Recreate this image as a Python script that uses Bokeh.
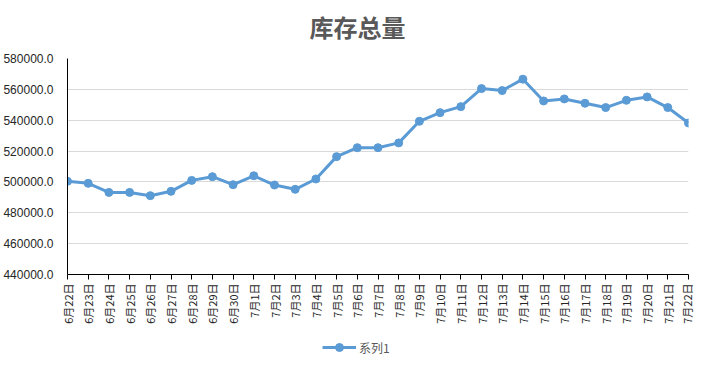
import math
from bokeh.plotting import figure
from bokeh.layouts import column
from bokeh.models import (ColumnDataSource, FixedTicker, NumeralTickFormatter,
                          Legend, LegendItem, Range1d, Label)
from bokeh.embed import file_html
from bokeh.resources import INLINE

dates = ["6月22日", "6月23日", "6月24日", "6月25日", "6月26日", "6月27日", "6月28日",
         "6月29日", "6月30日", "7月1日", "7月2日", "7月3日", "7月4日", "7月5日",
         "7月6日", "7月7日", "7月8日", "7月9日", "7月10日", "7月11日", "7月12日",
         "7月13日", "7月14日", "7月15日", "7月16日", "7月17日", "7月18日", "7月19日",
         "7月20日", "7月21日", "7月22日"]
series1 = [500400, 499100, 493200, 493200, 491100, 493900, 501000, 503400, 498200,
           504000, 498000, 495200, 501900, 516400, 522200, 522200, 525300, 539300,
           544900, 548800, 560500, 559200, 566600, 552500, 553800, 551000, 548200,
           552900, 555100, 548200, 538200]
y_ticks = [440000, 460000, 480000, 500000, 520000, 540000, 560000, 580000]
series_name = "系列1"
chart_title = "库存总量"

LINE_COLOR = "#5b9bd5"
xs = list(range(len(dates)))
src = ColumnDataSource(data=dict(x=xs, y=series1))

# title strip
tf = figure(width=694, height=52, output_backend="svg", toolbar_location=None,
            x_range=Range1d(0, 1), y_range=Range1d(0, 1),
            min_border=0, outline_line_color=None)
tf.axis.visible = False
tf.grid.visible = False
tf.add_layout(Label(x=290, y=26, x_units="screen", y_units="screen",
                    text=chart_title, text_align="center", text_baseline="middle",
                    text_font="Noto Sans CJK SC", text_font_size="24px",
                    text_font_style="bold", text_color="#595959"))

p = figure(width=694, height=284, output_backend="svg", toolbar_location=None,
           x_range=Range1d(0, len(dates) - 1), y_range=Range1d(440000, 580000),
           min_border_left=64, min_border_right=6, min_border_top=6,
           min_border_bottom=62)
p.background_fill_color = "white"
p.border_fill_color = "white"
p.outline_line_color = None

p.line("x", "y", source=src, line_color=LINE_COLOR, line_width=3)
p.scatter("x", "y", source=src, size=8, fill_color=LINE_COLOR, line_color=LINE_COLOR)

p.xaxis.ticker = FixedTicker(ticks=xs)
p.xaxis.major_label_overrides = {i: d for i, d in enumerate(dates)}
p.xaxis.major_label_orientation = math.pi / 2
p.xaxis.axis_line_color = "black"
p.xaxis.major_tick_line_color = "black"
p.xaxis.major_tick_in = 0
p.xaxis.major_tick_out = 5
p.xaxis.minor_tick_line_color = None
p.xaxis.major_label_text_font = "Noto Sans CJK SC"
p.xaxis.major_label_text_font_size = "11px"
p.xaxis.major_label_text_color = "#262626"
p.xaxis.major_label_standoff = 4

p.yaxis.ticker = FixedTicker(ticks=y_ticks)
p.yaxis.formatter = NumeralTickFormatter(format="0.0")
p.yaxis.axis_line_color = "black"
p.yaxis.major_tick_line_color = None
p.yaxis.minor_tick_line_color = None
p.yaxis.major_label_text_font = "Liberation Sans"
p.yaxis.major_label_text_font_size = "12px"
p.yaxis.major_label_text_color = "#262626"
p.yaxis.major_label_standoff = 8

p.xgrid.grid_line_color = None
p.ygrid.grid_line_color = "#d9d9d9"
p.ygrid.grid_line_width = 1

# legend strip below the chart
lg = figure(width=694, height=24, output_backend="svg", toolbar_location=None,
            x_range=Range1d(0, 1), y_range=Range1d(0, 1),
            min_border=0, outline_line_color=None)
lg.axis.visible = False
lg.grid.visible = False
nan = float("nan")
key_src = ColumnDataSource(data=dict(x=[nan], y=[nan]))
lr = lg.line("x", "y", source=key_src, line_color=LINE_COLOR, line_width=3)
ls = lg.scatter("x", "y", source=key_src, size=8, fill_color=LINE_COLOR, line_color=LINE_COLOR)
legend = Legend(items=[LegendItem(label=series_name, renderers=[lr, ls])],
                orientation="horizontal", location=(255, 3),
                label_text_font="Noto Sans CJK SC", label_text_font_size="12px",
                label_text_color="#595959", border_line_color=None,
                background_fill_alpha=0, glyph_width=34, label_standoff=3,
                padding=0, margin=0)
lg.add_layout(legend)

layout = column(tf, p, lg, spacing=0)
open("out.html", "w").write(file_html(layout, INLINE))
